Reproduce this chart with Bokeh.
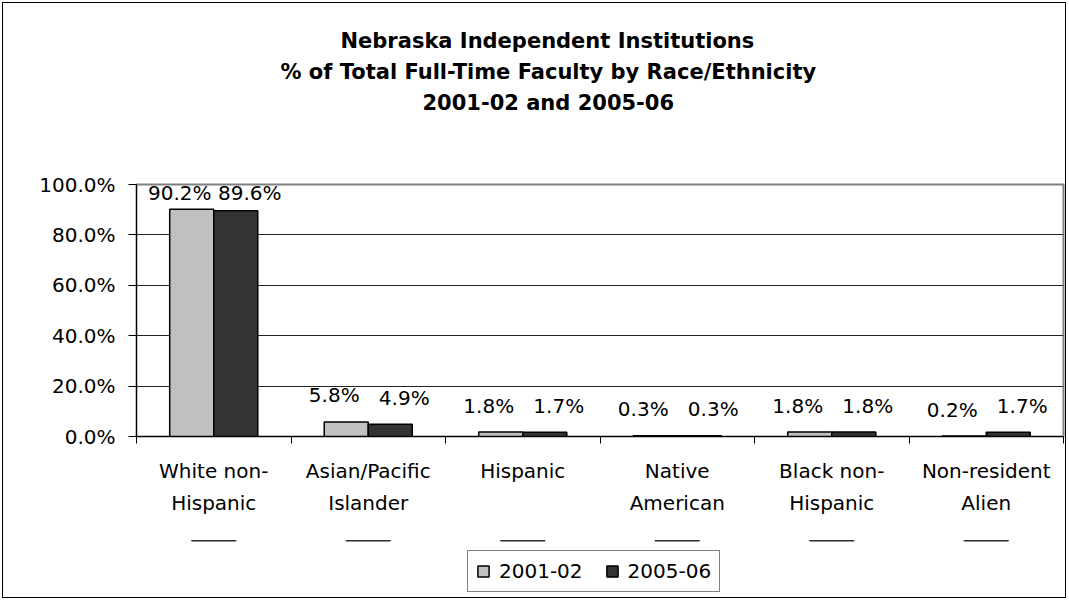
from bokeh.plotting import figure
from bokeh.layouts import column
from bokeh.models import (ColumnDataSource, Range1d, FixedTicker, PrintfTickFormatter,
                          LabelSet, Legend, LegendItem, Title)
from bokeh.transform import dodge
from bokeh.core.properties import value
from bokeh.embed import file_html
from bokeh.resources import INLINE

# ---- data ----
cat_line1 = ["White non-", "Asian/Pacific", "Hispanic", "Native", "Black non-", "Non-resident"]
cat_line2 = ["Hispanic", "Islander", "", "American", "Hispanic", "Alien"]
series_names = ["2001-02", "2005-06"]
vals_2001 = [90.2, 5.8, 1.8, 0.3, 1.8, 0.2]
vals_2005 = [89.6, 4.9, 1.7, 0.3, 1.8, 1.7]
y_ticks = [0, 20, 40, 60, 80, 100]
title_lines = ["Nebraska Independent Institutions",
               "% of Total Full-Time Faculty by Race/Ethnicity",
               "2001-02 and 2005-06"]

FONT = "DejaVu Sans"
FS = "20px"
colors = ["#C0C0C0", "#333333"]

n = len(cat_line1)
xc = [i + 0.5 for i in range(n)]
src = ColumnDataSource(dict(
    x=xc, v1=vals_2001, v2=vals_2005,
    l1=[f"{v:.1f}%" for v in vals_2001], l2=[f"{v:.1f}%" for v in vals_2005],
    y1=[min(v + 10.5, 96.8) for v in vals_2001],
    y2=[min(v + 10.5, 96.8) for v in vals_2005],
))

p = figure(frame_width=927, frame_height=252, output_backend="svg", toolbar_location=None,
           x_range=Range1d(0, n), y_range=Range1d(0, 100),
           min_border_left=133, min_border_right=2, min_border_top=181, min_border_bottom=104)
p.background_fill_color = "white"
p.border_fill_color = "white"
p.outline_line_color = "#808080"
p.outline_line_width = 2

bw = 0.285
p.vbar(x=dodge("x", -bw / 2, range=p.x_range), top="v1", width=bw, source=src,
       fill_color=colors[0], line_color="black", line_width=1.5)
p.vbar(x=dodge("x", bw / 2, range=p.x_range), top="v2", width=bw, source=src,
       fill_color=colors[1], line_color="black", line_width=1.5)

# data labels
for xoff, col_y, col_l, dx in [(-bw / 2, "y1", "l1", -12), (bw / 2, "y2", "l2", 14)]:
    ls = LabelSet(x=dodge("x", xoff, range=p.x_range), y=col_y, text=col_l, source=src,
                  text_align="center", text_baseline="middle", x_offset=dx,
                  text_font=value(FONT), text_font_size=value(FS), text_color="black")
    p.add_layout(ls)

# y axis
p.yaxis.ticker = FixedTicker(ticks=y_ticks)
p.yaxis.formatter = PrintfTickFormatter(format="%.1f%%")
p.yaxis.major_label_text_font = FONT
p.yaxis.major_label_text_font_size = FS
p.yaxis.major_label_text_color = "black"
p.yaxis.major_tick_out = 8
p.yaxis.major_tick_in = 0
p.yaxis.minor_tick_line_color = None
p.yaxis.axis_line_color = "black"
p.yaxis.major_tick_line_color = "black"
p.yaxis.major_label_standoff = 13

# x axis: labels at category centres (major), tick marks at boundaries (minor)
p.xaxis.ticker = FixedTicker(ticks=xc, minor_ticks=list(range(n + 1)))
p.xaxis.major_label_overrides = {
    xc[i]: (cat_line1[i] + ("\n" + cat_line2[i] if cat_line2[i] else "")) for i in range(n)
}
p.xaxis.major_tick_out = 0
p.xaxis.major_tick_in = 0
p.xaxis.minor_tick_out = 7
p.xaxis.minor_tick_in = 0
p.xaxis.minor_tick_line_color = "black"
p.xaxis.axis_line_color = "black"
p.xaxis.major_label_standoff = 15
p.xaxis.major_label_text_font = FONT
p.xaxis.major_label_text_font_size = FS
p.xaxis.major_label_text_color = "black"
p.xaxis.major_label_text_line_height = 1.37
p.xaxis.major_label_text_align = "center"

p.xgrid.grid_line_color = None
p.ygrid.ticker = FixedTicker(ticks=y_ticks[1:-1])
p.ygrid.grid_line_color = "#222222"
p.ygrid.grid_line_width = 1

# title: spacer panel next to the frame, then lines stacked outward
p.add_layout(Title(text=" ", standoff=64, text_font_size="1px"), "above")
title_offsets = [204, 144, 286]
for txt, off in reversed(list(zip(title_lines, title_offsets))):
    p.add_layout(Title(text=txt, align="left", offset=off, standoff=5,
                       text_font=FONT, text_font_size="21px", text_font_style="bold",
                       text_color="black"), "above")

# legend strip below the chart (its bars lie far outside its visible range)
lg = figure(width=1062, height=57, output_backend="svg", toolbar_location=None,
            x_range=Range1d(0, n), y_range=Range1d(-1000, -999), min_border=0)
lg.axis.visible = False
lg.grid.visible = False
lg.outline_line_color = None
lg.background_fill_color = "white"
lg.border_fill_color = "white"
g1 = lg.vbar(x="x", top="v1", width=bw, source=src, fill_color=colors[0],
             line_color="black", line_width=1.5)
g2 = lg.vbar(x="x", top="v2", width=bw, source=src, fill_color=colors[1],
             line_color="black", line_width=1.5)
legend = Legend(items=[LegendItem(label=series_names[0], renderers=[g1]),
                       LegendItem(label=series_names[1], renderers=[g2])],
                orientation="horizontal", location=(331, 5),
                glyph_width=14, glyph_height=14, label_standoff=9, spacing=22,
                padding=8, margin=0, border_line_color="black", border_line_width=1,
                label_text_font=FONT, label_text_font_size=FS, label_text_color="black",
                label_height=20)
lg.add_layout(legend, "center")

layout = column(p, lg, spacing=0, styles={"border": "1.5px solid black", "margin": "2px"})

open("out.html", "w").write(file_html(layout, INLINE))
